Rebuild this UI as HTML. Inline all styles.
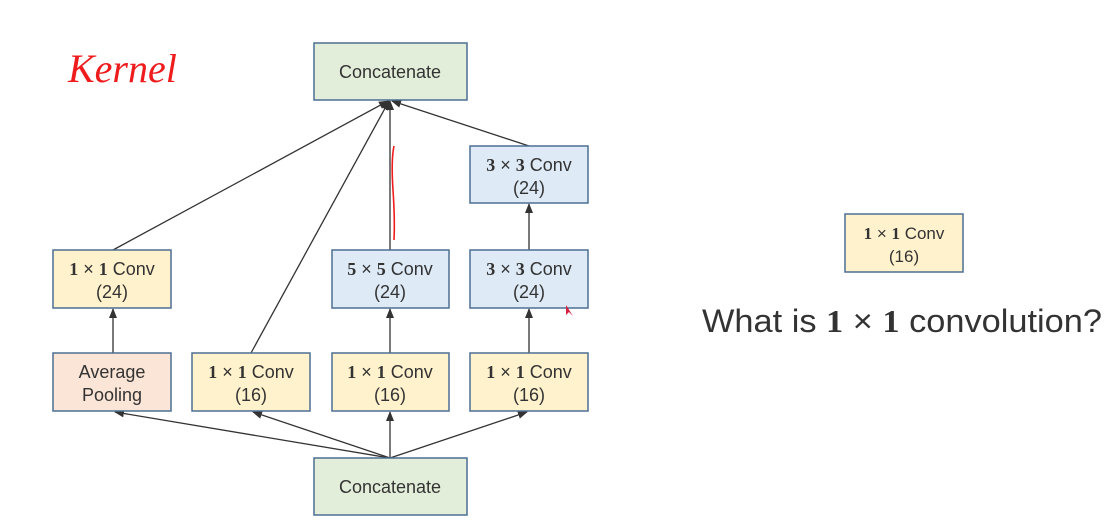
<!DOCTYPE html>
<html><head><meta charset="utf-8"><style>
html,body{margin:0;padding:0;background:#fff;width:1117px;height:529px;overflow:hidden}
svg{display:block}
text{font-family:"Liberation Sans","DejaVu Sans",sans-serif;fill:#333}
.b{font-family:"Liberation Serif",serif;font-weight:bold}
</style></head><body>
<svg width="1117" height="529" viewBox="0 0 1117 529">
<defs><marker id="ah" markerWidth="10" markerHeight="8" refX="9" refY="4" orient="auto" markerUnits="userSpaceOnUse"><path d="M0,0 L10,4 L0,8 z" fill="#333"/></marker></defs>
<g stroke="#333" stroke-width="1.3" fill="none" marker-end="url(#ah)">
<line x1="113" y1="250" x2="388" y2="101"/>
<line x1="251" y1="353" x2="389" y2="101"/>
<line x1="390" y1="250" x2="390" y2="101"/>
<line x1="529" y1="146" x2="392" y2="101"/>
<line x1="390" y1="458" x2="115" y2="412"/>
<line x1="390" y1="458" x2="253" y2="412"/>
<line x1="390" y1="458" x2="390" y2="412"/>
<line x1="390" y1="458" x2="527" y2="412"/>
<line x1="113" y1="353" x2="113" y2="309"/>
<line x1="390" y1="353" x2="390" y2="309"/>
<line x1="529" y1="353" x2="529" y2="309"/>
<line x1="529" y1="250" x2="529" y2="204"/>
</g>
<g stroke="#4d6f93" stroke-width="1.5">
<rect x="314" y="43" width="153" height="57" fill="#e2eed9"/>
<rect x="314" y="458" width="153" height="57" fill="#e2eed9"/>
<rect x="53" y="250" width="118" height="58" fill="#fff2cc"/>
<rect x="332" y="250" width="117" height="58" fill="#deebf7"/>
<rect x="470" y="250" width="118" height="58" fill="#deebf7"/>
<rect x="470" y="146" width="118" height="57" fill="#deebf7"/>
<rect x="53" y="353" width="118" height="58" fill="#fbe5d6"/>
<rect x="192" y="353" width="118" height="58" fill="#fff2cc"/>
<rect x="332" y="353" width="117" height="58" fill="#fff2cc"/>
<rect x="470" y="353" width="118" height="58" fill="#fff2cc"/>
<rect x="845" y="214" width="118" height="58" fill="#fff2cc"/>
</g>
<g font-size="18" text-anchor="middle">
<text x="390" y="78">Concatenate</text>
<text x="390" y="493">Concatenate</text>
<text x="112" y="275"><tspan class="b">1</tspan> × <tspan class="b">1</tspan> Conv</text><text x="112" y="298">(24)</text>
<text x="390" y="275"><tspan class="b">5</tspan> × <tspan class="b">5</tspan> Conv</text><text x="390" y="298">(24)</text>
<text x="529" y="275"><tspan class="b">3</tspan> × <tspan class="b">3</tspan> Conv</text><text x="529" y="298">(24)</text>
<text x="529" y="171"><tspan class="b">3</tspan> × <tspan class="b">3</tspan> Conv</text><text x="529" y="194">(24)</text>
<text x="112" y="378">Average</text><text x="112" y="401">Pooling</text>
<text x="251" y="378"><tspan class="b">1</tspan> × <tspan class="b">1</tspan> Conv</text><text x="251" y="401">(16)</text>
<text x="390" y="378"><tspan class="b">1</tspan> × <tspan class="b">1</tspan> Conv</text><text x="390" y="401">(16)</text>
<text x="529" y="378"><tspan class="b">1</tspan> × <tspan class="b">1</tspan> Conv</text><text x="529" y="401">(16)</text>
<text x="904" y="239" font-size="17"><tspan class="b">1</tspan> × <tspan class="b">1</tspan> Conv</text><text x="904" y="262" font-size="17">(16)</text>
</g>
<text x="702" y="332" font-size="32" textLength="400" lengthAdjust="spacingAndGlyphs" fill="#3a3a3a">What is <tspan class="b">1</tspan> × <tspan class="b">1</tspan> convolution?</text>
<text x="68" y="82" font-size="40" font-style="italic" style="fill:#ee1c1c;font-family:'Liberation Serif',serif">Kernel</text>
<path d="M394,146 Q391,160 393,190 Q395,220 394,240" stroke="#ee1c1c" stroke-width="1.6" fill="none"/>
<path d="M566,305 L566,315 L569,312 L573,316 z" fill="#d62040"/>
</svg>
</body></html>
